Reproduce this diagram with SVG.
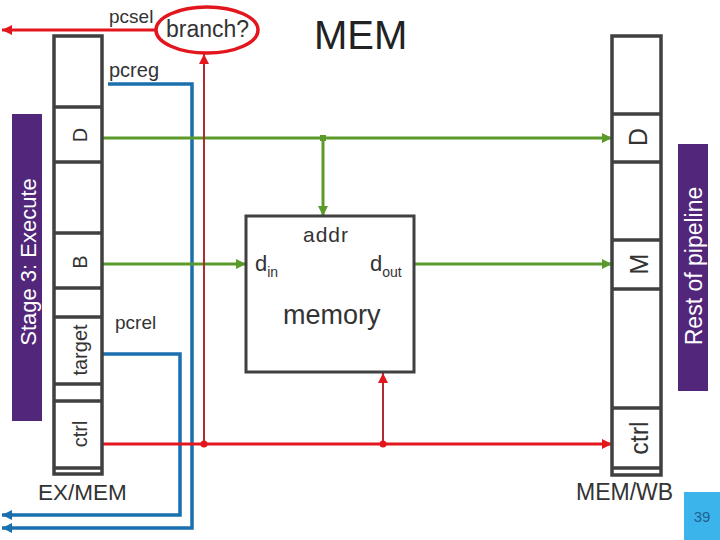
<svg xmlns="http://www.w3.org/2000/svg" width="720" height="540" viewBox="0 0 720 540">
<defs>
<style>
text{font-family:"Liberation Sans",Arial,sans-serif;fill:#333;}
.reg{fill:#fff;stroke:#404040;stroke-width:3.5;}
.div{stroke:#404040;stroke-width:3.5;}
.g{fill:none;stroke:#5a9a2a;stroke-width:3;}
.r{fill:none;stroke:#e3161e;stroke-width:3;}
.dr{fill:none;stroke:#b22a2e;stroke-width:2;}
.b{fill:none;stroke:#1a6fae;stroke-width:3.5;}
.bar{fill:#52267a;}
.bartxt{fill:#fff;font-size:22px;}
</style>
<marker id="ag" markerUnits="userSpaceOnUse" markerWidth="10" markerHeight="10" refX="10" refY="5" orient="auto"><path d="M0,0 L10,5 L0,10 z" fill="#5a9a2a"/></marker>
<marker id="ar" markerUnits="userSpaceOnUse" markerWidth="10" markerHeight="10" refX="10" refY="5" orient="auto"><path d="M0,0 L10,5 L0,10 z" fill="#e3161e"/></marker>
<marker id="ab" markerUnits="userSpaceOnUse" markerWidth="10" markerHeight="10" refX="10" refY="5" orient="auto"><path d="M0,0 L10,5 L0,10 z" fill="#1a6fae"/></marker>
</defs>
<rect width="720" height="540" fill="#fff"/>

<g id="title"><text x="314" y="49" style="font-size:40px;fill:#222">MEM</text></g>

<g id="stage3">
<rect class="bar" x="12" y="114" width="30" height="307"/>
<text class="bartxt" transform="translate(36,262) rotate(-90)" text-anchor="middle">Stage 3: Execute</text>
</g>

<g id="rest">
<rect class="bar" x="678" y="144" width="30" height="247"/>
<text class="bartxt" transform="translate(702,266) rotate(-90)" text-anchor="middle" style="font-size:23px">Rest of pipeline</text>
</g>

<g id="connectors">
<path class="b" d="M108,84 H192 V528 H2" marker-end="url(#ab)"/>
<path class="b" d="M102,354 H180 V515 H2" marker-end="url(#ab)"/>
<path class="g" d="M102,138 H612" marker-end="url(#ag)"/>
<path class="g" d="M323,138 V216" marker-end="url(#ag)"/>
<rect x="320" y="135" width="6" height="6" fill="#5a9a2a"/>
<path class="g" d="M102,264 H246" marker-end="url(#ag)"/>
<path class="g" d="M415,264 H612" marker-end="url(#ag)"/>
<path class="r" d="M102,444 H612" marker-end="url(#ar)"/>
<path class="dr" d="M204,444 V54" marker-end="url(#ar)"/>
<path class="dr" d="M383,444 V373" marker-end="url(#ar)"/>
<circle cx="204" cy="444" r="3.5" fill="#e3161e"/>
<circle cx="383" cy="444" r="3.5" fill="#e3161e"/>
<path class="r" d="M157,30 H2" marker-end="url(#ar)"/>
</g>

<g id="branch">
<ellipse cx="207" cy="30" rx="51" ry="23" fill="#fff" stroke="#e3161e" stroke-width="3.5"/>
<text x="166" y="37" style="font-size:23px">branch?</text>
</g>

<g id="labels">
<text x="109" y="23" style="font-size:19px">pcsel</text>
<text x="109" y="77" style="font-size:20px">pcreg</text>
<text x="115" y="329" style="font-size:19px">pcrel</text>
</g>

<g id="exmem">
<rect class="reg" x="54" y="36" width="48" height="438"/>
<path class="div" d="M54,107 H102 M54,162 H102 M54,233 H102 M54,288 H102 M54,317 H102 M54,384 H102 M54,401 H102 M54,468 H102"/>
<g style="font-size:20px" text-anchor="middle">
<text transform="translate(87,135) rotate(-90)">D</text>
<text transform="translate(87,262) rotate(-90)">B</text>
<text transform="translate(87,350) rotate(-90)">target</text>
<text transform="translate(87,434) rotate(-90)">ctrl</text>
</g>
<text x="38" y="500" style="font-size:22.5px">EX/MEM</text>
</g>

<g id="memwb">
<rect class="reg" x="612" y="36" width="49" height="439"/>
<path class="div" d="M612,114 H661 M612,162 H661 M612,240 H661 M612,289 H661 M612,408 H661 M612,468 H661"/>
<g style="font-size:25px" text-anchor="middle">
<text transform="translate(647,137) rotate(-90)">D</text>
<text transform="translate(648,264) rotate(-90)">M</text>
<text transform="translate(648,438) rotate(-90)">ctrl</text>
</g>
<text x="576" y="500" style="font-size:23px">MEM/WB</text>
</g>

<g id="memory">
<rect x="246" y="216" width="168" height="156" fill="#fff" stroke="#404040" stroke-width="3"/>
<text x="303" y="242" style="font-size:21px;letter-spacing:1px">addr</text>
<text x="255" y="271" style="font-size:22px">d<tspan dy="6" style="font-size:14px">in</tspan></text>
<text x="370" y="271" style="font-size:22px">d<tspan dy="6" style="font-size:14px">out</tspan></text>
<text x="283" y="324" style="font-size:27px">memory</text>
</g>

<g id="page">
<rect x="684" y="492" width="36" height="48" fill="#3bb4ec"/>
<text x="702" y="522" text-anchor="middle" style="font-size:15px;fill:#1f5f8f">39</text>
</g>
</svg>
